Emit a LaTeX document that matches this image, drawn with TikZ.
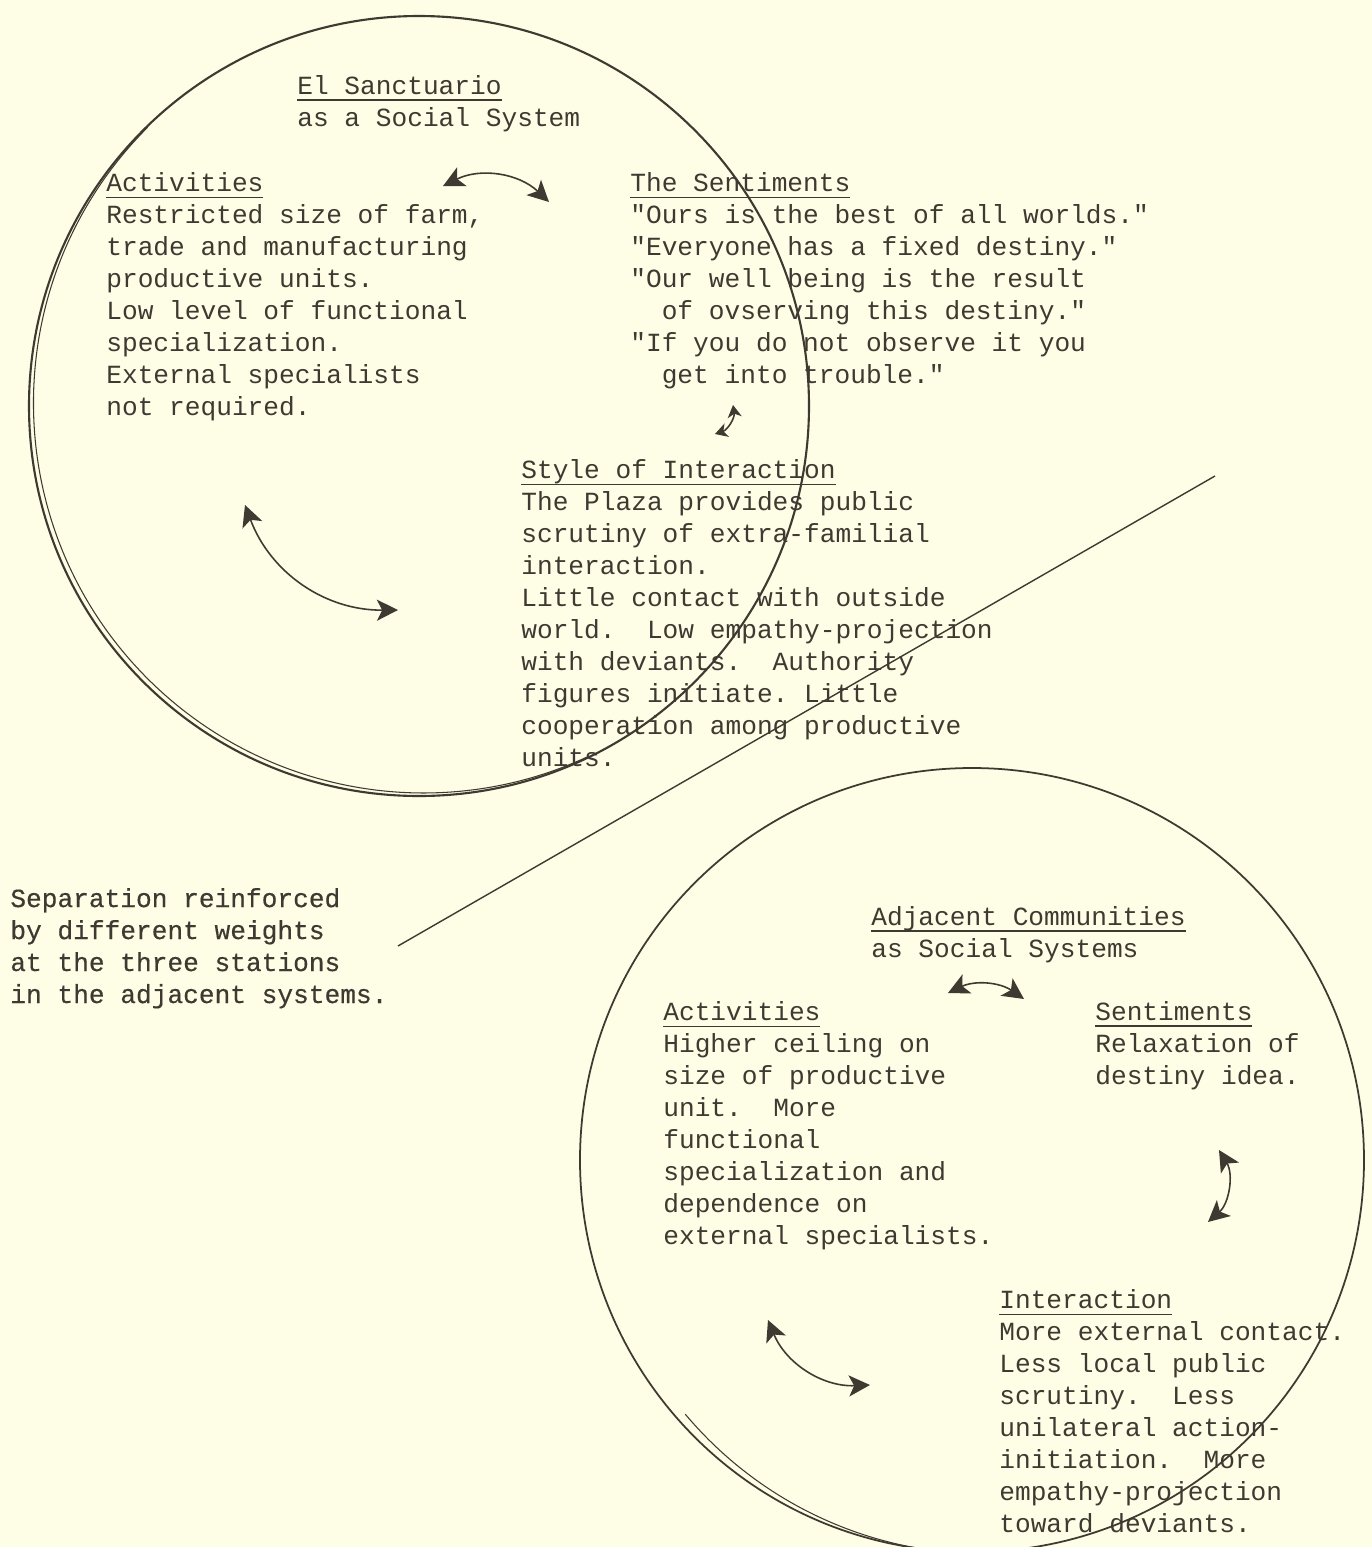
\documentclass[tikz,border=0pt]{standalone}
\usepackage{fontspec}
\setmonofont{Liberation Mono}
\newfontfamily\heavytype{Liberation Mono}[FakeBold=0.4]
\usetikzlibrary{arrows.meta}
\definecolor{paper}{RGB}{254,253,229}
\definecolor{ink}{RGB}{62,58,50}
\newcommand{\heading}[1]{\setbox0\hbox{#1}\leavevmode\rlap{\rule[-4pt]{\wd0}{0.9pt}}\box0}
\frenchspacing
\begin{document}
\begin{tikzpicture}[scale=0.2]
\tikzstyle{every node}+=[inner sep=0pt]
\tikzstyle{typed}=[anchor=base west, align=left, text=ink, font=\ttfamily\fontsize{14.9}{18.2}\selectfont]
\tikzstyle{heavy}=[typed, font=\heavytype\fontsize{14.9}{18.2}\selectfont]
\tikzstyle{rim}=[draw=ink, line width=1pt]
\tikzstyle{link}=[draw=ink, line width=0.9pt, {Stealth[length=12pt,width=12pt,inset=3pt]}-{Stealth[length=12pt,width=12pt,inset=3pt]}]
\tikzstyle{smalllink}=[draw=ink, line width=0.9pt, {Stealth[length=7pt,width=8pt,inset=2pt]}-{Stealth[length=7pt,width=8pt,inset=2pt]}]
\useasboundingbox (0,0) rectangle (137.2,-154.7);
\fill [paper] (0,0) rectangle (137.2,-154.7);
% El Sanctuario (nodes sit on the baseline of their last line)
\draw [rim, line width=1.2pt] (41.9,-40.6) circle (39);
\draw [rim, line width=0.6pt] (14.77,-12.72) arc (135:295:39);
\node [typed] (sanctitle) at (29.7,-12.6) {\heading{El Sanctuario}\\as a Social System};
\node [typed] (actup) at (10.6,-41.5) {\heading{Activities}\\Restricted size of farm,\\trade and manufacturing\\productive units.\\Low level of functional\\specialization.\\External specialists\\not required.};
\node [typed] (sentup) at (63.0,-38.3) {\heading{The Sentiments}\\"Ours is the best of all worlds."\\"Everyone has a fixed destiny."\\"Our well being is the result\\~~of ovserving this destiny."\\"If you do not observe it you\\~~get into trouble."};
\node [typed] (styleup) at (52.1,-76.6) {\heading{Style of Interaction}\\The Plaza provides public\\scrutiny of extra-familial\\interaction.\\Little contact with outside\\world.~ Low empathy-projection\\with deviants.~ Authority\\figures initiate. Little\\cooperation among productive\\units.};
\coordinate (upas1) at (44.3,-18.6);
\coordinate (upas2) at (54.9,-20.2);
\coordinate (upss1) at (73.3,-40.5);
\coordinate (upss2) at (71.5,-43.4);
\coordinate (upai1) at (24.5,-50.5);
\coordinate (upai2) at (39.8,-61.0);
\draw [link] (upas1) to [bend left=35] (upas2);
\draw [smalllink] (upss1) to [bend left=40] (upss2);
\draw [link] (upai1) to [bend right=35] (upai2);
% separation
\coordinate (cutlow) at (39.8,-94.6);
\coordinate (cuthigh) at (121.5,-47.6);
\draw [ink, line width=0.8pt] (cutlow) -- (cuthigh);
\node [heavy] (septext) at (1.0,-100.3) {Separation reinforced\\by different weights\\at the three stations\\in the adjacent systems.};
% adjacent communities
\draw [rim] (97.2,-116.0) circle (39.2);
\draw [rim, line width=0.6pt] (68.52,-141.41) arc (220:275:39.2);
\node [typed] (adjtitle) at (87.1,-95.7) {\heading{Adjacent Communities}\\as Social Systems};
\node [typed] (actlow) at (66.3,-124.4) {\heading{Activities}\\Higher ceiling on\\size of productive\\unit.~ More\\functional\\specialization and\\dependence on\\external specialists.};
\node [typed] (sentlow) at (109.5,-108.4) {\heading{Sentiments}\\Relaxation of\\destiny idea.};
\node [typed] (intlow) at (99.9,-153.2) {\heading{Interaction}\\More external contact.\\Less local public\\scrutiny.~ Less\\unilateral action-\\initiation.~ More\\empathy-projection\\toward deviants.};
\coordinate (lowas1) at (94.8,-99.3);
\coordinate (lowas2) at (102.4,-99.9);
\coordinate (lowsi1) at (121.9,-115.0);
\coordinate (lowsi2) at (120.8,-122.2);
\coordinate (lowai1) at (76.8,-132.0);
\coordinate (lowai2) at (87.0,-138.5);
\draw [link] (lowas1) to [bend left=30] (lowas2);
\draw [link] (lowsi1) to [bend left=40] (lowsi2);
\draw [link] (lowai1) to [bend right=35] (lowai2);
\end{tikzpicture}
\end{document}
